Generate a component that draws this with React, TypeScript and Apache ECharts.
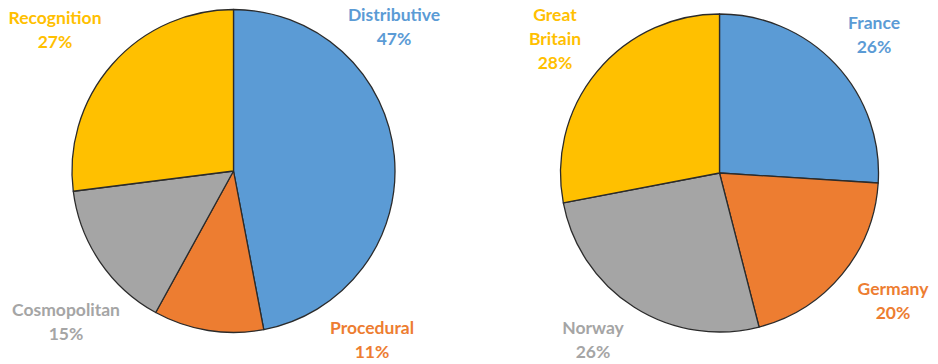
import React, { useEffect, useRef } from "react";
import * as echarts from "echarts";

const leftNames = ["Distributive", "Procedural", "Cosmopolitan", "Recognition"];
const leftValues = [47, 11, 15, 27];
const rightNames = ["France", "Germany", "Norway", "Great\nBritain"];
const rightValues = [26, 20, 26, 28];
const colors = ["#5B9BD5", "#ED7D31", "#A5A5A5", "#FFC000"];

// label anchor positions (block centers) in px
const leftLabelPos = [
  [394, 26],
  [372, 339],
  [66, 321],
  [55, 29],
];
const rightLabelPos = [
  [874, 34.5],
  [893, 300],
  [593, 339],
  [555, 38],
];

function makeSeries(names: string[], values: number[], center: number[], radius: number, pos: number[][]) {
  return {
    type: "pie",
    center,
    radius,
    startAngle: 90,
    clockwise: true,
    avoidLabelOverlap: false,
    data: names.map((n, i) => ({
      name: n,
      value: values[i],
      itemStyle: { color: colors[i] },
      label: { color: colors[i] },
    })),
    itemStyle: { borderColor: "#2b2b2b", borderWidth: 1.3 },
    label: {
      show: true,
      position: "outside",
      formatter: "{b}\n{c}%",
      fontFamily: "Lato",
      fontWeight: "bold",
      fontSize: 17.5,
      lineHeight: 24,
      align: "center",
    },
    labelLine: { show: false },
    labelLayout: (p: any) => ({
      x: pos[p.dataIndex][0],
      y: pos[p.dataIndex][1],
      align: "center",
      verticalAlign: "middle",
    }),
    emphasis: { disabled: true },
  };
}

export default function App() {
  const ref = useRef<HTMLDivElement>(null);
  useEffect(() => {
    if (!ref.current) return;
    const chart = echarts.init(ref.current, undefined, { renderer: "svg" });
    chart.setOption({
      animation: false,
      backgroundColor: "#ffffff",
      series: [
        makeSeries(leftNames, leftValues, [233.5, 171], 161.5, leftLabelPos),
        makeSeries(rightNames, rightValues, [719.5, 173], 159, rightLabelPos),
      ],
    });
    return () => chart.dispose();
  }, []);
  return (
    <div
      ref={ref}
      style={{ position: "fixed", left: 0, top: 0, width: 938, height: 364 }}
    />
  );
}
